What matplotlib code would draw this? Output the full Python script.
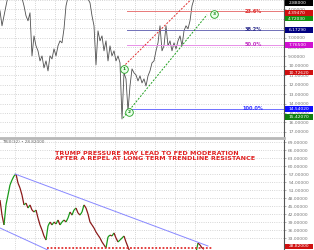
import matplotlib
matplotlib.use('Agg')
import matplotlib.pyplot as plt
import matplotlib.transforms as mtransforms
import numpy as np
from matplotlib.collections import LineCollection
from matplotlib.patches import Rectangle

# price (inverted scale), one value per bar
price = [4.15, 5.74, 4.68, 3.62, 2.6, 2.4, 2.2, 2.0, 2.1, 2.3, 2.5, 2.8,
         3.62, 4.68, 5.21, 4.36, 8.94, 6.81, 7.87, 8.40, 9.47, 8.94, 10.21, 9.47,
         10.53, 8.94, 9.26, 8.19, 8.94, 7.87, 7.34, 7.55, 6.06, 3.62, 2.7,
         2.5, 2.3, 2.1, 2.0, 2.2, 2.4, 2.3, 2.5, 2.7, 2.9,
         3.30, 4.68, 5.74, 9.89, 6.28, 7.34, 6.81, 8.40, 7.34, 9.47, 7.87, 8.94,
         8.40, 9.47, 8.94, 9.68, 15.64, 10.74, 11.38, 14.79, 12.13, 10.32, 10.74,
         10.96, 11.60, 11.06, 11.81, 11.38, 12.13, 11.06, 10.53, 9.68, 9.47, 8.40,
         7.55, 5.74, 8.40, 7.87, 5.74, 7.87, 7.34, 8.40, 7.55, 8.19, 7.34, 6.81,
         7.87, 6.28, 5.74, 6.06, 5.21, 3.62, 2.9, 2.6, 2.5, 2.7, 2.8, 2.88]

osc = [47.25, 41.6, 37.9, 45.4, 49.1, 52.9, 54.75, 56.25, 57.0, 53.6, 51.75, 49.1,
       45.4, 46.1, 44.25, 45.4, 43.5, 42.75, 43.5, 40.5, 37.9, 36.0, 33.75, 32.25,
       37.5, 39.0, 37.9, 39.0, 38.25, 39.75, 37.9, 39.0, 39.75, 39.0, 40.5, 42.75,
       41.6, 43.5, 44.25, 42.4, 41.6, 42.75, 45.4, 44.25, 42.0, 39.0, 37.9, 36.75,
       35.25, 34.1, 33.0, 31.5, 30.4, 29.25, 33.4, 34.1, 33.75, 34.9, 33.0, 31.5,
       32.25, 33.0, 33.75, 31.5, 29.6, 27.75,
       27.5, 26.8, 27.2, 26.0, 25.5, 26.4, 27.0, 26.2, 25.8, 26.5, 27.1, 26.3,
       25.6, 25.2, 26.0, 26.8, 27.3, 26.5, 25.9, 26.4, 27.0, 26.1, 25.7, 26.3,
       26.9, 27.4, 26.6, 26.0, 26.5, 27.2, 27.8, 28.2, 27.6,
       31.1, 30.4, 29.25, 28.82]

fib_ratios = [0.236, 0.382, 0.5, 1.0]
fib_labels = ['23.6%', '38.2%', '50.0%', '100.0%']
fib_line_colors = ['#e87878', '#7070b8', '#e890e8', '#7070ff']
fib_text_colors = ['#e03030', '#303090', '#c030c0', '#3030ff']
fib_start, fib_end = 0.99, 14.55  # 0% and 100% prices

# price-axis flags: (value shown, label, colour)
price_flags = [(3.35, '2.88000', '#000000'), (4.3947, '4.39470', '#d01010'),
               (4.98, '4.72030', '#109010'), (6.1729, '6.17290', '#000080'),
               (7.765, '7.76500', '#d010d0'), (10.72, '10.72620', '#d01010'),
               (14.55, '14.54020', '#1010ff'), (15.42, '15.42070', '#108010')]

red_trend = ([61.5, 97.0], [10.11, 2.64])
green_trend = ([61.5, 103.5], [15.53, 4.57])
wave_marks = [(61.8, 10.3, '1'), (64.6, 14.9, '2'), (107.0, 4.45, '3')]

chan_upper = ([7.5, 104.0], [57.0, 30.0])
chan_lower = ([0.0, 30.0], [36.75, 26.4])
support = ([23.5, 106.5], [29.25, 29.25])

top_ticks = np.arange(3, 18)
bot_ticks = np.arange(33, 70, 3)
vgrid = np.arange(7.5, 100, 10)

fig = plt.figure(figsize=(3.14, 2.5), dpi=100)
axw = 284 / 314
ax1 = fig.add_axes([0, 112 / 250, axw, 138 / 250])
ax2 = fig.add_axes([0, 0, axw, 110 / 250])

for ax in (ax1, ax2):
    ax.set_xlim(0, 142)
    ax.set_xticks(vgrid)
    ax.tick_params(axis='x', length=0, labelbottom=False)
    ax.yaxis.tick_right()
    ax.tick_params(axis='y', labelsize=3.2, length=1.5, width=0.4,
                   colors='#777777', pad=1.5)
    ax.grid(True, linestyle=':', color='#c8c8c8', linewidth=0.6)
    ax.set_axisbelow(True)
    for s in ('left', 'top'):
        ax.spines[s].set_visible(False)
    ax.spines['right'].set_color('#555555')
    ax.spines['right'].set_linewidth(0.8)

# top panel
ax1.set_ylim(17.66, 3.085)
ax1.set_yticks(top_ticks)
ax1.set_yticklabels(['%.5f' % t for t in top_ticks])
ax1.spines['bottom'].set_color('#b8b8b8')
ax1.spines['bottom'].set_linewidth(2)

ax1.plot(np.arange(len(price)), price, color='#505050', lw=0.6)

for r, lab, lc, tc in zip(fib_ratios, fib_labels, fib_line_colors, fib_text_colors):
    lvl = fib_start + r * (fib_end - fib_start)
    ax1.plot([63.5, 142], [lvl, lvl], color=lc, lw=0.7)
    ax1.text(126.5, lvl, lab, color=tc, fontsize=3.6, fontweight='bold',
             ha='center', va='center')

ax1.plot(*red_trend, color='#e03030', lw=0.7, ls=(0, (2, 1.5)))
ax1.plot(*green_trend, color='#20a020', lw=0.7, ls=(0, (2, 1.5)))
for x, y, t in wave_marks:
    ax1.plot(x, y, 'o', ms=5.5, mfc='#eaffea', mec='#20a020', mew=0.6)
    ax1.text(x, y, t, color='#108010', fontsize=3.2, fontweight='bold',
             ha='center', va='center')

tr1 = mtransforms.blended_transform_factory(ax1.transAxes, ax1.transData)
for v, lab, c in price_flags:
    ax1.add_patch(Rectangle((1.003, v + 0.3), 0.1, -0.6, transform=tr1,
                            facecolor=c, edgecolor='none', clip_on=False, zorder=5))
    ax1.text(1.015, v, lab, transform=tr1, color='white', fontsize=3.2,
             va='center', ha='left', clip_on=False, zorder=6)

# bottom panel
ax2.set_ylim(28.5, 69.75)
ax2.set_yticks(bot_ticks)
ax2.set_yticklabels(['%.5f' % t for t in bot_ticks])
ax2.spines['bottom'].set_visible(False)

xs = np.arange(len(osc))
pts = np.column_stack([xs, osc])
segs = np.stack([pts[:-1], pts[1:]], axis=1)
cols = ['#1a9a1a' if b >= a else '#8b1a1a' for a, b in zip(osc[:-1], osc[1:])]
ax2.add_collection(LineCollection(segs, colors=cols, linewidths=0.9))

ax2.plot(*chan_upper, color='#8888ff', lw=0.7)
ax2.plot(*chan_lower, color='#8888ff', lw=0.7)
ax2.plot(*support, color='#e03030', lw=1.3, ls=(0, (1, 1)))

ax2.text(27.5, 65.6, 'TRUMP PRESSURE MAY LEAD TO FED MODERATION\n'
         'AFTER A REPEL AT LONG TERM TRENDLINE RESISTANCE',
         color='#e02020', fontsize=4.6, fontweight='bold', ha='left', va='top',
         linespacing=1.0)
ax2.text(1, 69.0, 'TRIX(32) \u2022 28.82000', color='#666666', fontsize=3,
         ha='left', va='center')

tr2 = mtransforms.blended_transform_factory(ax2.transAxes, ax2.transData)
last = osc[-1]
box_y = max(last, 29.9)
ax2.add_patch(Rectangle((1.003, box_y - 1.0), 0.1, 2.0, transform=tr2,
                        facecolor='#d01010', edgecolor='none', clip_on=False, zorder=5))
ax2.text(1.015, box_y, '%.5f' % last, transform=tr2, color='white', fontsize=3.2,
         va='center', ha='left', clip_on=False, zorder=6)

fig.savefig('out.png', dpi=100)
